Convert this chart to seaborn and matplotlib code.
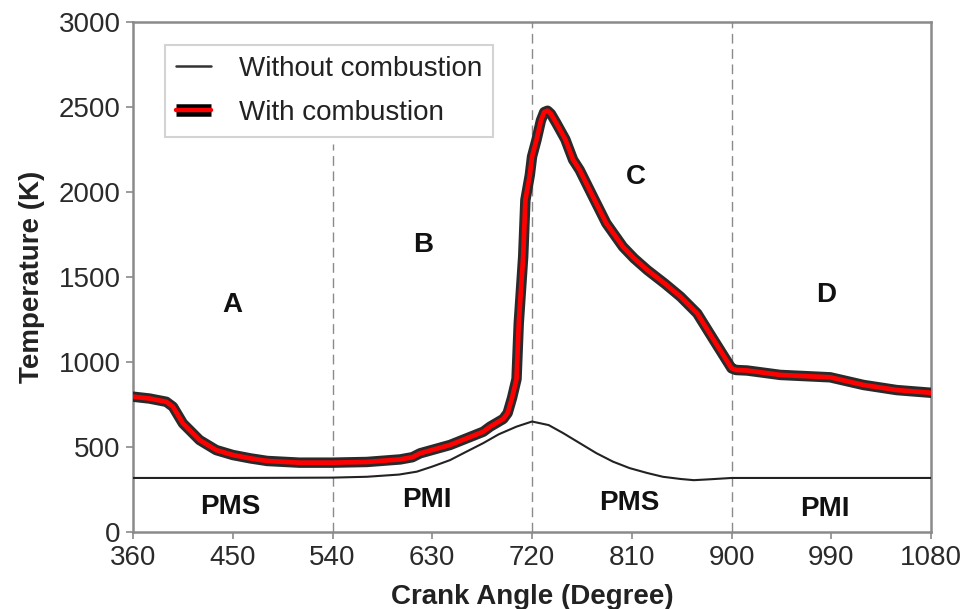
import matplotlib
matplotlib.use("Agg")
import matplotlib.pyplot as plt
from matplotlib.lines import Line2D
import seaborn as sns
import pandas as pd

# Cylinder gas temperature over one engine cycle (crank angle in degrees)
angle_motored = [360, 400, 450, 500, 540, 571, 600, 616, 630, 646, 660, 676, 690,
                 706, 720, 735, 748, 763, 778, 793, 808, 824, 838, 854, 866, 880,
                 900, 950, 1000, 1080]
temp_motored = [318, 318, 318, 319, 320, 325, 338, 355, 385, 423, 470, 523, 575,
                620, 650, 629, 582, 523, 464, 414, 376, 347, 325, 312, 305, 310,
                318, 318, 318, 318]

angle_fired = [360, 375, 390, 396, 405, 420, 435, 450, 466, 481, 510, 540, 571,
               601, 612, 619, 646, 676, 682, 694, 698, 702, 706, 708, 712, 714,
               718, 720, 724, 728, 731, 734, 737, 742, 750, 757, 763, 775, 787,
               802, 812, 824, 840, 854, 869, 884, 900, 904, 914, 944, 989, 1019,
               1049, 1080]
temp_fired = [796, 785, 766, 737, 639, 541, 482, 453, 433, 418, 408, 408, 412,
              427, 440, 463, 512, 590, 619, 665, 700, 790, 900, 1227, 1620, 1953,
              2100, 2208, 2306, 2420, 2470, 2478, 2460, 2404, 2310, 2190, 2129,
              1972, 1816, 1678, 1610, 1541, 1460, 1384, 1286, 1129, 963, 953, 950,
              924, 910, 865, 835, 819]

region_names = ["A", "B", "C", "D"]
region_x = [450, 622, 814, 985]
region_y = [1335, 1688, 2090, 1394]

stroke_names = ["PMS", "PMI", "PMS", "PMI"]
stroke_x = [448, 625, 808, 984]
stroke_y = [148, 188, 170, 137]

boundaries = [540, 720, 900]
x_ticks = [360, 450, 540, 630, 720, 810, 900, 990, 1080]
y_ticks = [0, 500, 1000, 1500, 2000, 2500, 3000]

motored = pd.DataFrame({"angle": angle_motored, "temp": temp_motored})
fired = pd.DataFrame({"angle": angle_fired, "temp": temp_fired})

sns.set_theme(style="white")
plt.rcParams["font.family"] = ["Liberation Sans", "DejaVu Sans"]

fig = plt.figure(figsize=(9.74, 6.09), dpi=100)
ax = fig.add_axes([0.1366, 0.1264, 0.8193, 0.8375])

grey = "#8a8a8a"
fs = 20
# stroke boundaries
ax.axvline(540, ymin=0, ymax=2285 / 3000, color=grey, lw=1.0, ls=(0, (7, 4)), zorder=1)
for b in boundaries[1:]:
    ax.axvline(b, color=grey, lw=1.0, ls=(0, (7, 4)), zorder=1)

sns.lineplot(data=motored, x="angle", y="temp", ax=ax, color="#222222", lw=1.5,
             sort=False, estimator=None, zorder=3)
sns.lineplot(data=fired, x="angle", y="temp", ax=ax, color="#2a2a2a", lw=7.5,
             sort=False, estimator=None, zorder=4, solid_capstyle="round",
             solid_joinstyle="round")
sns.lineplot(data=fired, x="angle", y="temp", ax=ax, color="#ff0000", lw=3.4,
             sort=False, estimator=None, zorder=5, solid_capstyle="round",
             solid_joinstyle="round")

for name, x, y in zip(region_names, region_x, region_y):
    ax.text(x, y, name, ha="center", va="center", fontsize=fs, fontweight="bold",
            color="#111111")
for name, x, y in zip(stroke_names, stroke_x, stroke_y):
    ax.text(x, y, name, ha="center", va="center", fontsize=fs, fontweight="bold",
            color="#111111")

ax.set_xlim(360, 1080)
ax.set_ylim(0, 3000)
ax.set_xticks(x_ticks)
ax.set_yticks(y_ticks)
ax.tick_params(axis="both", which="major", direction="out", length=5, width=1.2,
               color=grey, labelsize=fs, labelcolor="#2a2a2a", pad=4,
               bottom=True, left=True)
ax.set_xlabel("Crank Angle (Degree)", fontsize=fs, fontweight="bold",
              color="#222222", labelpad=10)
ax.set_ylabel("Temperature (K)", fontsize=fs, fontweight="bold",
              color="#222222", labelpad=10)
for side in ["left", "right", "top", "bottom"]:
    ax.spines[side].set_visible(True)
    ax.spines[side].set_color(grey)
    ax.spines[side].set_linewidth(1.8)

h_motored = Line2D([], [], color="#333333", lw=1.8)
h_fired = (Line2D([], [], color="black", lw=9, solid_capstyle="butt"),
           Line2D([], [], color="#ff0000", lw=3.2, solid_capstyle="round"))
leg = ax.legend([h_motored, h_fired], ["Without combustion", "With combustion"],
                loc="upper left", bbox_to_anchor=(0.040, 0.955), borderaxespad=0,
                fontsize=fs, frameon=True, fancybox=False, handlelength=1.25,
                handletextpad=1.0, labelspacing=0.65, borderpad=0.4)
leg.get_frame().set_edgecolor("#c8c8c8")
leg.get_frame().set_linewidth(1.5)
for t in leg.get_texts():
    t.set_color("#222222")

fig.savefig("out.png", dpi=100)
